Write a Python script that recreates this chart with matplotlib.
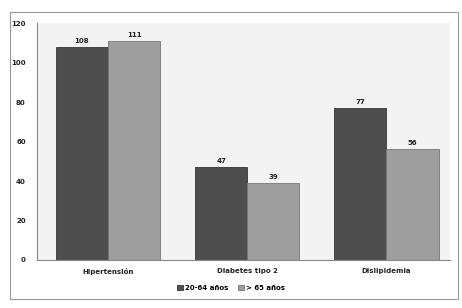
import matplotlib
matplotlib.use("Agg")
import matplotlib.pyplot as plt
import numpy as np
from matplotlib.patches import Rectangle

categories = ["Hipertensión", "Diabetes tipo 2", "Dislipidemia"]
series_names = ["20-64 años", "> 65 años"]
vals_young = [108, 47, 77]
vals_old = [111, 39, 56]
yticks = [0, 20, 40, 60, 80, 100, 120]

fig = plt.figure(figsize=(4.62, 3.08), dpi=100)
fig.patch.set_facecolor("white")
ax = fig.add_axes([0.08, 0.156, 0.895, 0.769])
ax.set_facecolor("#f3f3f3")

x = np.arange(len(categories))
w = 0.375
b1 = ax.bar(x - w/2, vals_young, w, color="#4e4e4e", edgecolor="#363636", linewidth=0.6, label=series_names[0])
b2 = ax.bar(x + w/2, vals_old, w, color="#9e9e9e", edgecolor="#767676", linewidth=0.6, label=series_names[1])
for bars in (b1, b2):
    for r in bars:
        ax.text(r.get_x() + r.get_width()/2, r.get_height() + 1.5, f"{int(r.get_height())}",
                ha="center", va="bottom", fontsize=5, fontweight="bold", color="#222222")

ax.set_ylim(0, 120)
ax.set_xlim(-0.51, 2.46)
ax.set_yticks(yticks)
ax.set_yticklabels([str(t) for t in yticks], fontsize=5, fontweight="bold", color="#222222")
ax.set_xticks(x)
ax.set_xticklabels(categories, fontsize=5, fontweight="bold", color="#222222")
ax.tick_params(axis="both", length=0, pad=8)
ax.tick_params(axis="x", pad=6)
for s in ["top", "right"]:
    ax.spines[s].set_visible(False)
ax.spines["left"].set_color("#888888")
ax.spines["bottom"].set_color("#888888")

fig.legend(handles=[b1, b2], labels=series_names, loc="center", bbox_to_anchor=(0.5, 0.065),
           ncol=2, frameon=False, handlelength=0.8, handleheight=0.8,
           columnspacing=1.5, handletextpad=0.3, prop={"weight": "bold", "size": 5})

fig.add_artist(Rectangle((0.022, 0.03), 0.97, 0.93, transform=fig.transFigure,
                         fill=False, edgecolor="#999999", linewidth=0.8))

fig.savefig("out.png", dpi=100)
